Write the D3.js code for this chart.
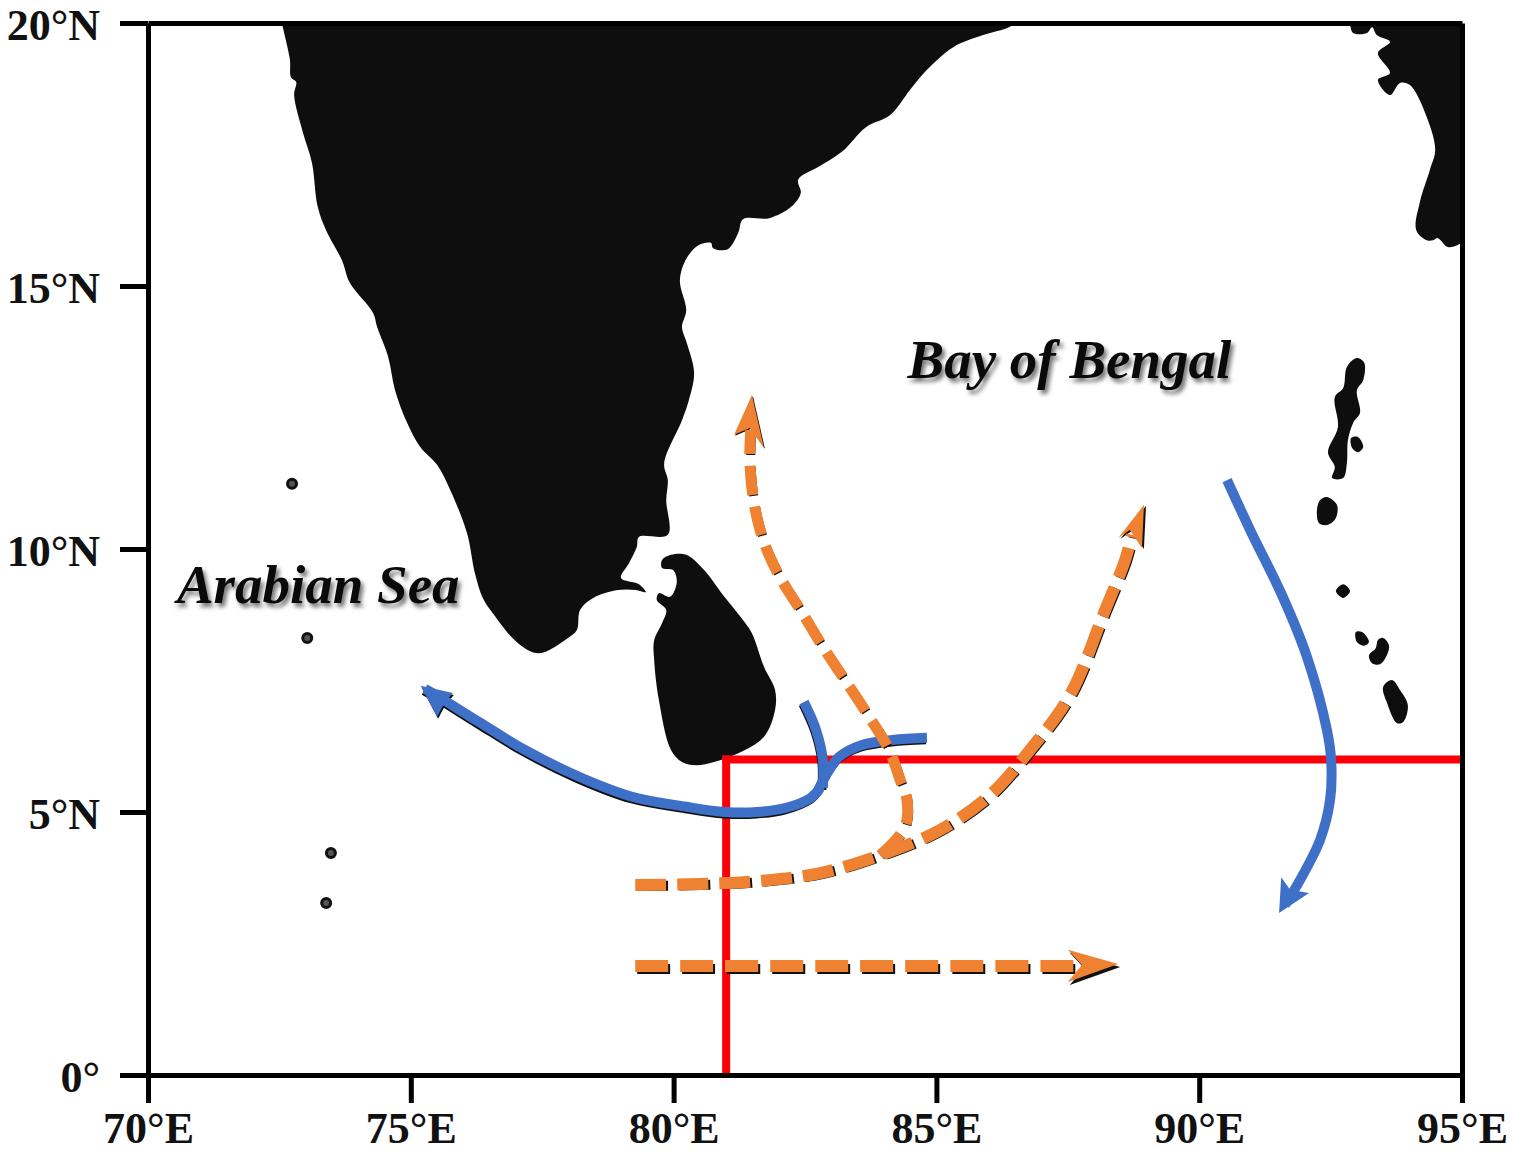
<!DOCTYPE html>
<html>
<head>
<meta charset="utf-8">
<script src="https://cdn.jsdelivr.net/npm/d3@7"></script>
<style>
  body { margin: 0; background: #fff; }
  .tick text { font-family: "Liberation Serif", serif; font-weight: bold; font-size: 44px; fill: #111; }
  .sea { font-family: "Liberation Serif", serif; font-weight: bold; font-style: italic; font-size: 55px; fill: #0a0a0a;
         filter: drop-shadow(3px 4px 2px #777); }
</style>
</head>
<body>
<script>
// ticks
var lonTicks = [70, 75, 80, 85, 90, 95];
var lonLabels = ["70°E", "75°E", "80°E", "85°E", "90°E", "95°E"];
var latTicks = [0, 5, 10, 15, 20];
var latLabels = ["0°", "5°N", "10°N", "15°N", "20°N"];

// land outlines, [lon, lat]
var india = [[72.55,20.2],[72.55,20],[72.57,19.9],[72.7,19.3],[72.72,18.97],[72.82,18.88],[72.78,18.63],[72.95,17.91],
  [73.12,17.34],[73.23,16.5],[73.41,16.01],[73.69,15.49],[73.84,15.06],[74.28,14.49],[74.36,14.22],[74.57,13.65],
  [74.7,13.02],[74.93,12.4],[75.18,11.94],[75.5,11.6],[75.75,11.12],[76.07,10.3],[76.22,9.54],[76.37,9.07],
  [76.56,8.78],[77.04,8.21],[77.44,8.02],[77.99,8.31],[78.16,8.46],[78.22,8.84],
  [78.47,9.07],[78.94,9.22],[79.28,9.22],[79.47,9.18],[79.34,9.33],[79,9.45],[79.15,9.73],[79.3,10.04],[79.34,10.23],
  [79.89,10.27],[79.86,10.93],[79.89,11.31],[79.82,11.63],[80.16,12.45],[80.29,12.83],[80.39,13.35],[80.25,13.92],
  [80.16,14.22],[80.24,14.54],[80.12,15.11],[80.25,15.53],[80.48,15.78],[80.71,15.82],[80.75,15.72],[81.03,15.7],
  [81.23,16.01],[81.32,16.27],[81.82,16.29],[82.23,16.5],[82.42,16.77],[82.37,17.02],[82.75,17.26],[83.2,17.55],
  [83.66,18.02],[84.12,18.25],[84.5,18.73],[84.82,19.11],[85.32,19.54],[85.89,19.77],[86.38,19.92],[86.48,20],[86.48,20.2]];
var sriLanka = [[79.78,9.79],[79.95,9.89],[80.24,9.89],[80.58,9.6],[80.9,9.18],[81.32,8.65],[81.49,8.4],[81.72,7.76],
  [81.93,7.32],[81.93,6.94],[81.72,6.43],[81.24,6.12],[80.77,5.95],[80.43,5.89],[80.16,5.95],[79.95,6.18],[79.72,7.13],
  [79.63,7.89],[79.63,8.27],[79.78,8.59],[79.86,8.84],[79.68,9.03],[79.72,9.16],[79.93,9.09],[80.06,9.37],[79.99,9.6],[79.78,9.64]];
var myanmar = [[92.87,20.2],[92.87,20],[92.93,19.81],[93.19,19.81],[93.29,19.92],[93.38,19.77],[93.63,19.64],[93.4,19.43],
  [93.63,19.05],[93.4,18.92],[93.63,18.63],[93.82,18.86],[94.01,18.82],[94.33,18.21],[94.49,17.59],[94.39,17.21],
  [94.2,16.6],[94.13,16.06],[94.33,15.87],[94.45,15.87],[94.54,15.91],[94.73,15.74],[94.92,15.78],[95.02,15.85],[95.2,15.85],[95.2,20.2]];
var andaman = [[92.81,13.46],[93,13.63],[93.14,13.54],[93.12,13.21],[93,13.02],[93.06,12.59],[92.93,12.4],[92.83,12.07],
  [92.81,11.63],[92.74,11.35],[92.53,11.35],[92.58,11.56],[92.45,11.84],[92.64,12.32],[92.58,12.89],[92.74,13.06]];
var andamanEast = [[92.89,12.11],[93.02,12.13],[93.12,11.94],[93.02,11.84],[92.91,11.92]];
var littleAndaman = [[92.43,10.99],[92.62,10.84],[92.6,10.59],[92.45,10.46],[92.28,10.49],[92.24,10.74],[92.3,10.93]];
var carNicobar = [[92.74,9.33],[92.87,9.2],[92.74,9.07],[92.6,9.2]];
var nicobarA = [[92.98,8.42],[93.1,8.42],[93.23,8.23],[93.14,8.16],[93,8.23]];
var nicobarB = [[93.23,7.98],[93.36,8.12],[93.4,8.27],[93.5,8.31],[93.61,8.17],[93.57,7.98],[93.44,7.81],[93.29,7.83]];
var greatNicobar = [[93.5,7.38],[93.67,7.51],[93.82,7.32],[93.97,7.03],[93.88,6.71],[93.76,6.69],[93.59,7.03]];
var lands = [india, sriLanka, myanmar, andaman, andamanEast, littleAndaman, carNicobar, nicobarA, nicobarB, greatNicobar];
var smallIslands = [[72.74,11.24],[73.03,8.31],[73.48,4.22],[73.39,3.27]];

// box limits
var redVertical = [[81,0],[81,6]];
var redHorizontal = [[81,6],[95,6]];

// currents
var blueWest = [[82.79,5.46],[82.61,5.27],[82.14,5.08],[81.59,5],[80.98,5],[80.24,5.1],[79.21,5.29],[78.2,5.67],
  [77.17,6.18],[76.3,6.71],[75.48,7.22],[75.27,7.34]];
var blueWestHead = [[75.19,7.4],[75.8,7.26],[75.65,7.09],[75.5,6.81]];
var blueBranchN = [[82.48,7.09],[82.71,6.56],[82.84,5.99],[82.84,5.46]];
var blueBranchE = [[84.82,6.41],[84.17,6.37],[83.57,6.27],[83.15,6.05],[82.96,5.8],[82.75,5.42]];
var blueEast = [[90.53,11.31],[90.97,10.36],[91.59,9.09],[92.05,7.95],[92.43,6.56],[92.51,5.99],[92.49,5.23],
  [92.3,4.47],[91.92,3.71],[91.63,3.23]];
var blueEastHead = [[91.52,3.08],[92.09,3.46],[91.73,3.52],[91.56,3.76]];

var orangeNorth = [[83.93,4.18],[84.4,4.71],[84.44,5.23],[84.31,5.61],[84.1,6.18],[83.7,6.84],[83.26,7.51],[82.84,8.14],
  [82.44,8.8],[82.02,9.47],[81.72,10.13],[81.53,10.87],[81.45,11.69],[81.47,12.26]];
var orangeNorthHead = [[81.49,12.93],[81.72,11.92],[81.45,12.3],[81.15,12.17]];
var orangeCurve = [[79.27,3.61],[80.5,3.63],[81.64,3.69],[82.79,3.84],[83.93,4.18],[85.07,4.66],[86.02,5.32],[86.78,6.18],
  [87.54,7.22],[88.21,8.84],[88.59,9.79],[88.72,10.27]];
var orangeCurveHead = [[88.95,10.84],[88.91,10.02],[88.68,10.36],[88.46,10.21]];
var orangeStraight = [[79.27,2.07],[83,2.07],[87.7,2.07]];
var orangeStraightHead = [[88.46,2.11],[87.5,2.38],[87.77,2.09],[87.5,1.77]];

var blueLines = [blueWest, blueBranchN, blueBranchE];
var blueHeads = [blueWestHead];

var seaNames = ["Bay of Bengal", "Arabian Sea"];
var seaPos = [[84.45,13.25],[70.55,8.97]];

var width = 1513, height = 1165;
var blue = "#3f70c8", orange = "#ee8232", red = "#fb0007";

var svg = d3.select("body").append("svg")
    .attr("width", width)
    .attr("height", height)
    .style("display", "block");

var x = d3.scaleLinear().domain([70, 95]).range([148, 1462]);
var y = d3.scaleLinear().domain([0, 20]).range([1075, 23]);

var plain = d3.line().x(function(d) { return x(d[0]); }).y(function(d) { return y(d[1]); });
var smooth = d3.line().x(function(d) { return x(d[0]); }).y(function(d) { return y(d[1]); })
    .curve(d3.curveCatmullRom.alpha(0.5));
var closedLand = d3.line().x(function(d) { return x(d[0]); }).y(function(d) { return y(d[1]); })
    .curve(d3.curveCatmullRomClosed.alpha(0.5));

svg.append("clipPath").attr("id", "plot").append("rect")
    .attr("x", x(70)).attr("y", y(20))
    .attr("width", x(95) - x(70)).attr("height", y(0) - y(20));

var map = svg.append("g").attr("clip-path", "url(#plot)");

// land
map.selectAll("path.land")
    .data(lands)
    .enter()
    .append("path")
    .attr("class", "land")
    .attr("fill", "#0e0e0e")
    .attr("d", closedLand);

map.selectAll("circle.islet")
    .data(smallIslands)
    .enter()
    .append("circle")
    .attr("class", "islet")
    .attr("cx", function(d) { return x(d[0]); })
    .attr("cy", function(d) { return y(d[1]); })
    .attr("r", 4.5)
    .attr("fill", "#555")
    .attr("stroke", "#111")
    .attr("stroke-width", 3);

// box
map.selectAll("path.box")
    .data([redVertical, redHorizontal])
    .enter()
    .append("path")
    .attr("class", "box")
    .attr("fill", "none")
    .attr("stroke", red)
    .attr("stroke-width", 8)
    .attr("stroke-linecap", "square")
    .attr("d", plain);

// solid blue currents
function drawBlue(pts, head) {
    if (head) {
        map.append("path").attr("d", plain(head) + "Z").attr("fill", "#111").attr("transform", "translate(1,2)");
    }
    map.append("path").attr("d", smooth(pts)).attr("fill", "none").attr("stroke", "#111")
        .attr("stroke-width", 9).attr("transform", "translate(-1,2)");
}
function drawBlueTop(pts, head) {
    map.append("path").attr("d", smooth(pts)).attr("fill", "none").attr("stroke", blue).attr("stroke-width", 10);
    if (head) {
        map.append("path").attr("d", plain(head) + "Z").attr("fill", blue);
    }
}
blueLines.forEach(function(l, i) { drawBlue(l, blueHeads[i]); });
blueLines.forEach(function(l, i) { drawBlueTop(l, blueHeads[i]); });
// east branch has no dark edge
drawBlueTop(blueEast, blueEastHead);

// dashed orange currents
function drawOrange(pts, head, w, dash, dx, dy) {
    map.append("path").attr("d", smooth(pts)).attr("fill", "none").attr("stroke", "#111")
        .attr("stroke-width", w - 2).attr("stroke-dasharray", dash)
        .attr("transform", "translate(" + dx + "," + dy + ")");
    map.append("path").attr("d", plain(head) + "Z").attr("fill", "#111")
        .attr("transform", "translate(" + dx + "," + dy + ")");
    map.append("path").attr("d", smooth(pts)).attr("fill", "none").attr("stroke", orange)
        .attr("stroke-width", w).attr("stroke-dasharray", dash);
    map.append("path").attr("d", plain(head) + "Z").attr("fill", orange);
}
drawOrange(orangeNorth, orangeNorthHead, 11, "29 12", 1, 1);
drawOrange(orangeCurve, orangeCurveHead, 12, "31 11", 2, 1);
drawOrange(orangeStraight, orangeStraightHead, 12, "33 12", 2, 3);

// sea names
svg.selectAll("text.sea")
    .data(seaNames)
    .enter()
    .append("text")
    .attr("class", "sea")
    .attr("x", function(d, i) { return x(seaPos[i][0]); })
    .attr("y", function(d, i) { return y(seaPos[i][1]); })
    .text(function(d) { return d; });

// axes
var xAxis = d3.axisBottom(x)
    .tickValues(lonTicks)
    .tickFormat(function(d, i) { return lonLabels[i]; })
    .tickSize(28)
    .tickSizeOuter(0)
    .tickPadding(9);
var yAxis = d3.axisLeft(y)
    .tickValues(latTicks)
    .tickFormat(function(d, i) { return latLabels[i]; })
    .tickSize(28)
    .tickSizeOuter(0)
    .tickPadding(20);

var gx = svg.append("g").attr("transform", "translate(0," + y(0) + ")").call(xAxis);
var gy = svg.append("g").attr("transform", "translate(" + x(70) + ",0)").call(yAxis);
svg.append("g").attr("transform", "translate(0," + y(20) + ")").call(d3.axisTop(x).tickValues([]).tickSizeOuter(0));
svg.append("g").attr("transform", "translate(" + x(95) + ",0)").call(d3.axisRight(y).tickValues([]).tickSizeOuter(0));

svg.selectAll(".domain").attr("stroke", "#000").attr("stroke-width", 5);
svg.selectAll(".tick line").attr("stroke", "#000").attr("stroke-width", 5);
gy.selectAll(".tick text").attr("dy", "0.38em");
</script>
</body>
</html>
